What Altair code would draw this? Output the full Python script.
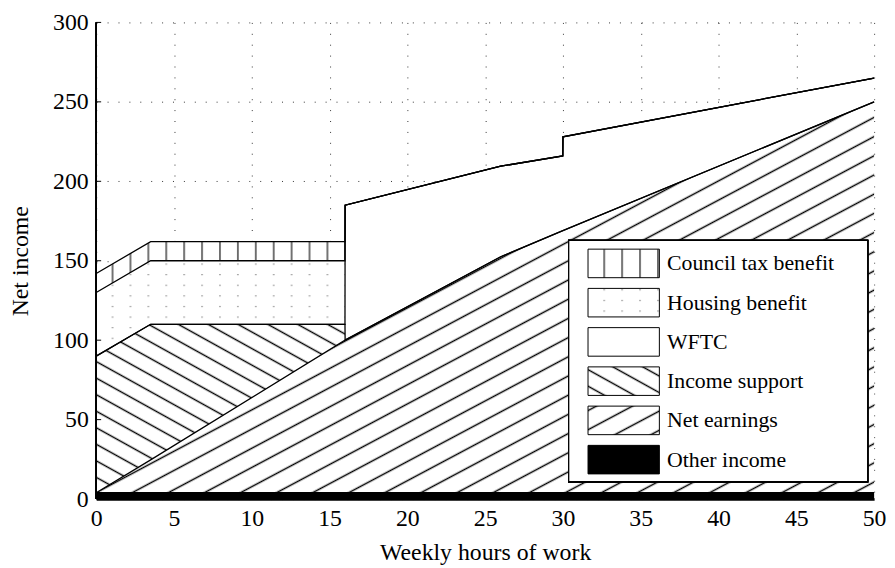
import altair as alt
import pandas as pd
import jinja2

# ---------------- data ----------------
HOURS = [0, 3.5, 15.99, 16, 26, 29.99, 30, 50]
OTHER_INCOME = [4, 4, 4, 4, 4, 4, 4, 4]
NET_EARNINGS = [0, 20.7, 96, 96, 148.5, 165, 165, 246]
INCOME_SUPPORT = [86, 85.3, 10, 0, 0, 0, 0, 0]
WFTC = [0, 0, 0, 85, 57, 47, 59, 15]
HOUSING_BENEFIT = [40, 40, 40, 0, 0, 0, 0, 0]
COUNCIL_TAX_BENEFIT = [12, 12, 12, 0, 0, 0, 0, 0]

STACK_ORDER = ["Other income", "Net earnings", "Income support", "WFTC",
               "Housing benefit", "Council tax benefit"]
SERIES = [OTHER_INCOME, NET_EARNINGS, INCOME_SUPPORT, WFTC,
          HOUSING_BENEFIT, COUNCIL_TAX_BENEFIT]
LEGEND_ORDER = ["Council tax benefit", "Housing benefit", "WFTC",
                "Income support", "Net earnings", "Other income"]
X_TICKS = [0, 5, 10, 15, 20, 25, 30, 35, 40, 45, 50]
Y_TICKS = [0, 50, 100, 150, 200, 250, 300]

# ---------------- build stacked table ----------------
rows = []
cum = [0.0] * len(HOURS)
for name, vals in zip(STACK_ORDER, SERIES):
    for i, h in enumerate(HOURS):
        lo = cum[i]
        hi = lo + vals[i]
        rows.append({"hours": h, "series": name, "lower": lo, "upper": hi})
        cum[i] = hi
df = pd.DataFrame(rows)
ticks_df = pd.DataFrame({"v": Y_TICKS})

# ---------------- styles ----------------
FILLS = {
    "Council tax benefit": "url(#hatch-vline)",
    "Housing benefit": "url(#hatch-dots)",
    "WFTC": "white",
    "Income support": "url(#hatch-bslash)",
    "Net earnings": "url(#hatch-slash)",
    "Other income": "black",
}
FONT = "Liberation Serif"
W, H = 785, 481

xscale = alt.Scale(domain=[0, 50], nice=False, zero=False)
yscale = alt.Scale(domain=[0, 300], nice=False)

xaxis = alt.Axis(values=X_TICKS, title="Weekly hours of work", grid=True,
                 gridDash=[1, 10], gridColor="#000", gridOpacity=0.8,
                 tickSize=0, domainColor="black", domainWidth=2.5,
                 labelFont=FONT, labelFontSize=24, labelColor="black",
                 labelPadding=8, labelFlush=False,
                 titleFont=FONT, titleFontSize=24, titleFontWeight="normal",
                 titleColor="black", titlePadding=10)
yaxis = alt.Axis(values=Y_TICKS, title="Net income", grid=True,
                 gridDash=[1, 10], gridColor="#000", gridOpacity=0.8,
                 tickSize=0, domain=False,
                 labelFont=FONT, labelFontSize=24, labelColor="black",
                 labelPadding=8, labelFlush=False,
                 titleFont=FONT, titleFontSize=24, titleFontWeight="normal",
                 titleColor="black", titlePadding=20)

base = alt.Chart(df)

areas = base.mark_area(strokeWidth=0, interpolate="linear").encode(
    x=alt.X("hours:Q", scale=xscale, axis=xaxis),
    y=alt.Y("lower:Q", scale=yscale, axis=yaxis),
    y2="upper:Q",
    color=alt.Color(
        "series:N",
        scale=alt.Scale(domain=LEGEND_ORDER, range=[FILLS[k] for k in LEGEND_ORDER]),
        legend=alt.Legend(
            title=None, orient="none", legendX=476.8, legendY=216.7,
            padding=8, symbolType="M-2,-0.8H2V0.8H-2Z", symbolSize=1296,
            symbolStrokeColor="black", symbolStrokeWidth=1, symbolOpacity=1,
            symbolOffset=29, labelOffset=25.2, rowPadding=4.6,
            labelFont=FONT, labelFontSize=22, labelColor="black", labelLimit=400,
        ),
    ),
)

tops = base.mark_line(color="black", strokeWidth=1.3, interpolate="linear").encode(
    x="hours:Q", y="upper:Q", detail="series:N"
)

yline = alt.Chart(ticks_df).mark_rule(color="black", strokeWidth=1.3).encode(
    x=alt.datum(0), y=alt.datum(0), y2=alt.datum(300)
)
yticks = alt.Chart(ticks_df).mark_rule(color="black", strokeWidth=1).encode(
    x=alt.value(0), x2=alt.value(5), y="v:Q"
)

legend_box = alt.Chart(ticks_df).mark_rect(
    fill="white", stroke="black", strokeWidth=1.3
).encode(
    x=alt.value(476.8), x2=alt.value(778.5), y=alt.value(220), y2=alt.value(463.5)
)

chart = alt.layer(areas, tops, yline, yticks, legend_box).properties(
    width=W, height=H,
    autosize=alt.AutoSizeParams(type="none"),
    padding={"left": 89, "top": 12, "right": 13, "bottom": 66},
    background="white",
).configure_view(stroke=None)

PATTERNS = """
<svg width="0" height="0" style="position:absolute;left:0;top:0" aria-hidden="true">
 <defs>
  <pattern id="hatch-vline" patternUnits="userSpaceOnUse" x="7.5" y="0" width="18.07" height="20">
   <rect width="18.07" height="20" fill="white"/>
   <line x1="9" y1="0" x2="9" y2="20" stroke="black" stroke-width="1.1"/>
  </pattern>
  <pattern id="hatch-dots" patternUnits="userSpaceOnUse" x="7.5" y="3" width="18.07" height="10.7">
   <rect width="18.07" height="10.7" fill="white"/>
   <rect x="8.5" y="5" width="1" height="1" fill="#333"/>
  </pattern>
  <pattern id="hatch-slash" patternUnits="userSpaceOnUse" width="40" height="17.1" patternTransform="rotate(-28)">
   <rect width="40" height="17.1" fill="white"/>
   <line x1="0" y1="8.55" x2="40" y2="8.55" stroke="black" stroke-width="1.3"/>
  </pattern>
  <pattern id="hatch-bslash" patternUnits="userSpaceOnUse" width="40" height="14.6" patternTransform="rotate(29)">
   <rect width="40" height="14.6" fill="white"/>
   <line x1="0" y1="7.3" x2="40" y2="7.3" stroke="black" stroke-width="1.3"/>
  </pattern>
 </defs>
</svg>
"""

TEMPLATE = jinja2.Template("""<!DOCTYPE html>
<html>
<head>
  <style>
    #{{ output_div }}.vega-embed { width: 100%; display: flex; }
  </style>
  <script type="text/javascript" src="{{ base_url }}/vega@{{ vega_version }}"></script>
  <script type="text/javascript" src="{{ base_url }}/vega-lite@{{ vegalite_version }}"></script>
  <script type="text/javascript" src="{{ base_url }}/vega-embed@{{ vegaembed_version }}"></script>
</head>
<body>
""" + PATTERNS + """
  <div id="{{ output_div }}"></div>
  <script>
    (function(vegaEmbed) {
      var spec = {{ spec }};
      var embedOpt = {{ embed_options }};
      var el = document.getElementById('{{ output_div }}');
      vegaEmbed("#{{ output_div }}", spec, embedOpt).catch(function(error) {
        el.innerHTML = '<pre>' + error + '</pre>';
        throw error;
      });
    })(vegaEmbed);
  </script>
</body>
</html>
""")

chart.save("out.html", embed_options={"renderer": "svg", "actions": False}, template=TEMPLATE)
